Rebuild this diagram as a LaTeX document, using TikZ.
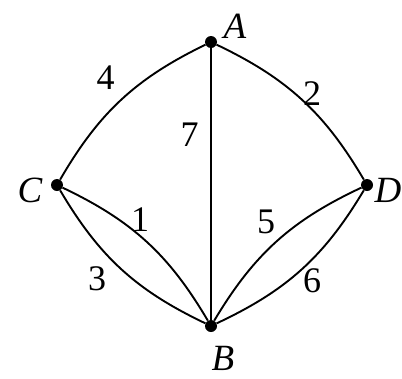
\documentclass[tikz,border=0pt]{standalone}
\usepackage{fontspec}
\setmainfont{Liberation Serif}

\begin{document}
\begin{tikzpicture}[
  x=1pt, y=1pt,
  vertex/.style={circle, fill, inner sep=0pt, minimum size=12pt},
  vlab/.style={font=\fontsize{37}{40}\selectfont\itshape, inner sep=0pt},
  wlab/.style={font=\fontsize{36}{40}\selectfont, inner sep=0pt},
  edge/.style={line width=1.9pt}
]
\useasboundingbox (0,0) rectangle (402,-378);

\node[vertex] (a) at (211,-42) {};
\node[vertex] (b) at (211,-326) {};
\node[vertex] (c) at (57,-185) {};
\node[vertex] (d) at (367,-185) {};

\node[vlab] (la) at (235,-26) {A};
\node[vlab] (lb) at (223,-358) {B};
\node[vlab] (lc) at (30,-190) {C};
\node[vlab] (ld) at (388,-190) {D};

\draw[edge] (a) to[bend right=17] (c);
\draw[edge] (a) to[bend left=17] (d);
\draw[edge] (a) -- (b);
\draw[edge] (c) to[bend left=17] (b);
\draw[edge] (c) to[bend right=17] (b);
\draw[edge] (d) to[bend right=17] (b);
\draw[edge] (d) to[bend left=17] (b);

% edge weights
\node[wlab] (w4) at (105.5,-78) {4};
\node[wlab] (w2) at (312,-93.5) {2};
\node[wlab] (w7) at (189.5,-134.5) {7};
\node[wlab] (w1) at (140,-220) {1};
\node[wlab] (w3) at (97,-279) {3};
\node[wlab] (w5) at (266,-222) {5};
\node[wlab] (w6) at (312,-281) {6};
\end{tikzpicture}
\end{document}
